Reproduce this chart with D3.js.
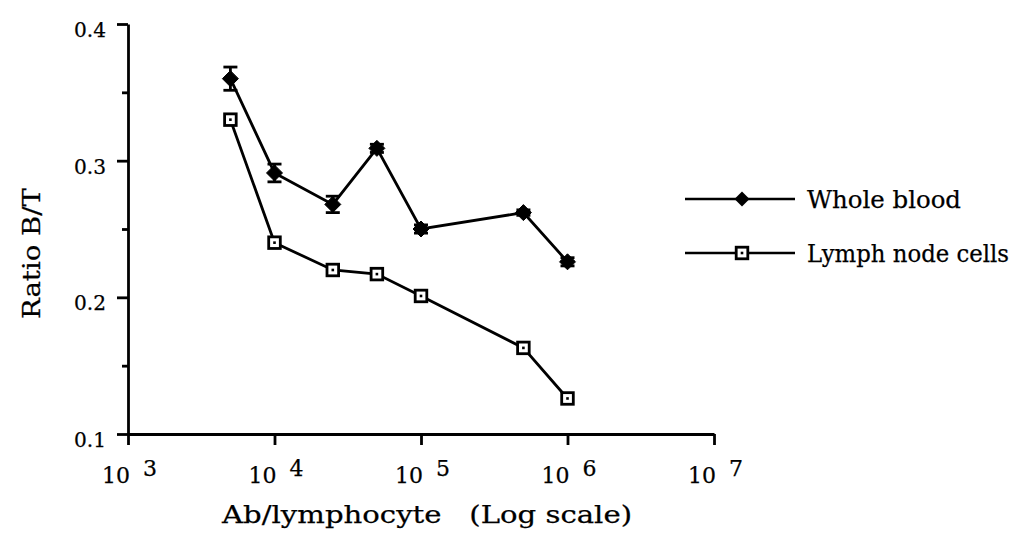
<!DOCTYPE html>
<html>
<head>
<meta charset="utf-8">
<script src="https://cdn.jsdelivr.net/npm/d3@7/dist/d3.min.js"></script>
<style>
  html, body { margin: 0; padding: 0; background: #fff; }
  svg { display: block; }
  text { font-family: "DejaVu Serif", "Liberation Serif", serif; fill: #000; stroke: #000; stroke-width: 0.25px; }
</style>
</head>
<body>
<svg id="chart" width="1024" height="538"></svg>
<script>
// ---- data ----
const abPerLymphocyte = [5e3, 1e4, 2.5e4, 5e4, 1e5, 5e5, 1e6];
const wholeBlood      = [0.360, 0.291, 0.268, 0.309, 0.250, 0.262, 0.226];
const wholeBloodErr   = [0.0085, 0.0065, 0.006, 0.003, 0.003, 0.002, 0.003];
const lymphNodeCells  = [0.330, 0.240, 0.220, 0.217, 0.201, 0.163, 0.126];
const xTickExponents  = [3, 4, 5, 6, 7];
const yMajorTicks     = [0.1, 0.2, 0.3, 0.4];
const yMinorTicks     = [0.15, 0.25, 0.35];
const yTickLabels     = ["0.1", "0.2", "0.3", "0.4"];
const seriesNames     = ["Whole blood", "Lymph node cells"];
const xTitle = "Ab/lymphocyte   (Log scale)";
const yTitle = "Ratio B/T";

// ---- layout ----
const svg = d3.select("#chart");
const x = d3.scaleLog().domain([1e3, 1e7]).range([128, 714]);
const y = d3.scaleLinear().domain([0.1, 0.4]).range([434, 24]);
const SW = 2.8;

// axes
const xAxis = d3.axisBottom(x)
  .tickValues(xTickExponents.map(e => Math.pow(10, e)))
  .tickFormat("")
  .tickSize(11).tickSizeOuter(0);
const gx = svg.append("g").attr("transform", `translate(0,${y(0.1)})`).call(xAxis);
gx.select(".domain").attr("stroke", "#000").attr("stroke-width", SW);
gx.selectAll(".tick line").attr("stroke", "#000").attr("stroke-width", SW);

const yAxis = d3.axisLeft(y).tickValues(yMajorTicks).tickFormat("").tickSize(11).tickSizeOuter(0);
const gy = svg.append("g").attr("transform", `translate(${x(1e3)},0)`).call(yAxis);
gy.select(".domain").attr("stroke", "#000").attr("stroke-width", SW);
gy.selectAll(".tick line").attr("stroke", "#000").attr("stroke-width", SW);

const yMinor = d3.axisLeft(y).tickValues(yMinorTicks).tickFormat("").tickSize(6).tickSizeOuter(0);
const gym = svg.append("g").attr("transform", `translate(${x(1e3)},0)`).call(yMinor);
gym.select(".domain").remove();
gym.selectAll(".tick line").attr("stroke", "#000").attr("stroke-width", SW);

// y tick labels
svg.append("g").selectAll("text").data(yMajorTicks).join("text")
  .attr("x", x(1e3) - 22)
  .attr("y", d => y(d) + 13)
  .attr("text-anchor", "end")
  .attr("font-size", 21)
  .attr("textLength", 32).attr("lengthAdjust", "spacingAndGlyphs")
  .text((d, i) => yTickLabels[i]);

// x tick labels: 10 with superscript exponent
const xl = svg.append("g").selectAll("g").data(xTickExponents).join("g")
  .attr("transform", e => `translate(${x(Math.pow(10, e))},0)`);
xl.append("text").attr("x", 2).attr("y", 483).attr("text-anchor", "end")
  .attr("font-size", 22).text("10");
xl.append("text").attr("x", 15).attr("y", 476).attr("text-anchor", "start")
  .attr("font-size", 22).text(e => e);

// axis titles
svg.append("text").attr("x", 222).attr("y", 523)
  .attr("font-size", 25)
  .attr("textLength", 410).attr("lengthAdjust", "spacingAndGlyphs")
  .style("white-space", "pre")
  .text(xTitle);
svg.append("text")
  .attr("transform", "translate(40,319) rotate(-90)")
  .attr("font-size", 25)
  .attr("textLength", 131).attr("lengthAdjust", "spacingAndGlyphs")
  .text(yTitle);

// lines
const line = d3.line().x(d => x(d[0])).y(d => y(d[1]));
const wbData = abPerLymphocyte.map((v, i) => [v, wholeBlood[i], wholeBloodErr[i]]);
const lnData = abPerLymphocyte.map((v, i) => [v, lymphNodeCells[i]]);

svg.append("path").datum(lnData).attr("d", line)
  .attr("fill", "none").attr("stroke", "#000").attr("stroke-width", SW);
svg.append("path").datum(wbData).attr("d", line)
  .attr("fill", "none").attr("stroke", "#000").attr("stroke-width", SW);

// error bars
const eb = svg.append("g").selectAll("g").data(wbData).join("g");
eb.append("line")
  .attr("x1", d => x(d[0])).attr("x2", d => x(d[0]))
  .attr("y1", d => y(d[1] + d[2])).attr("y2", d => y(d[1] - d[2]))
  .attr("stroke", "#000").attr("stroke-width", SW);
[1, -1].forEach(s => {
  eb.append("line")
    .attr("x1", d => x(d[0]) - 7).attr("x2", d => x(d[0]) + 7)
    .attr("y1", d => y(d[1] + s * d[2])).attr("y2", d => y(d[1] + s * d[2]))
    .attr("stroke", "#000").attr("stroke-width", SW);
});

// markers
const diamond = (cx, cy, r) => `M${cx},${cy - r}L${cx + r},${cy}L${cx},${cy + r}L${cx - r},${cy}Z`;
svg.append("g").selectAll("path").data(wbData).join("path")
  .attr("d", d => diamond(x(d[0]), y(d[1]), 8))
  .attr("fill", "#000").attr("stroke", "#000").attr("stroke-width", 1);

function squareMarker(sel) {
  sel.append("rect").attr("x", -5.8).attr("y", -5.8).attr("width", 11.6).attr("height", 11.6)
    .attr("fill", "#fff").attr("stroke", "#000").attr("stroke-width", 2.8);
  sel.append("rect").attr("x", -1.3).attr("y", -1.3).attr("width", 2.6).attr("height", 2.6)
    .attr("fill", "#000");
}
const sq = svg.append("g").selectAll("g").data(lnData).join("g")
  .attr("transform", d => `translate(${x(d[0])},${y(d[1])})`);
squareMarker(sq);

// legend
const legendY = [199, 253];
const lg = svg.append("g").selectAll("g").data(seriesNames).join("g")
  .attr("transform", (d, i) => `translate(0,${legendY[i]})`);
lg.append("line").attr("x1", 685).attr("x2", 795).attr("y1", 0).attr("y2", 0)
  .attr("stroke", "#000").attr("stroke-width", 2.4);
lg.filter((d, i) => i === 0).append("path").attr("d", diamond(742, 0, 7.5)).attr("fill", "#000");
const lsq = lg.filter((d, i) => i === 1).append("g").attr("transform", "translate(742,0)");
squareMarker(lsq);
const legendLen = [154, 202];
lg.append("text").attr("x", 807).attr("y", 9)
  .attr("font-size", 24)
  .attr("textLength", (d, i) => legendLen[i]).attr("lengthAdjust", "spacingAndGlyphs")
  .text(d => d);
</script>
</body>
</html>
